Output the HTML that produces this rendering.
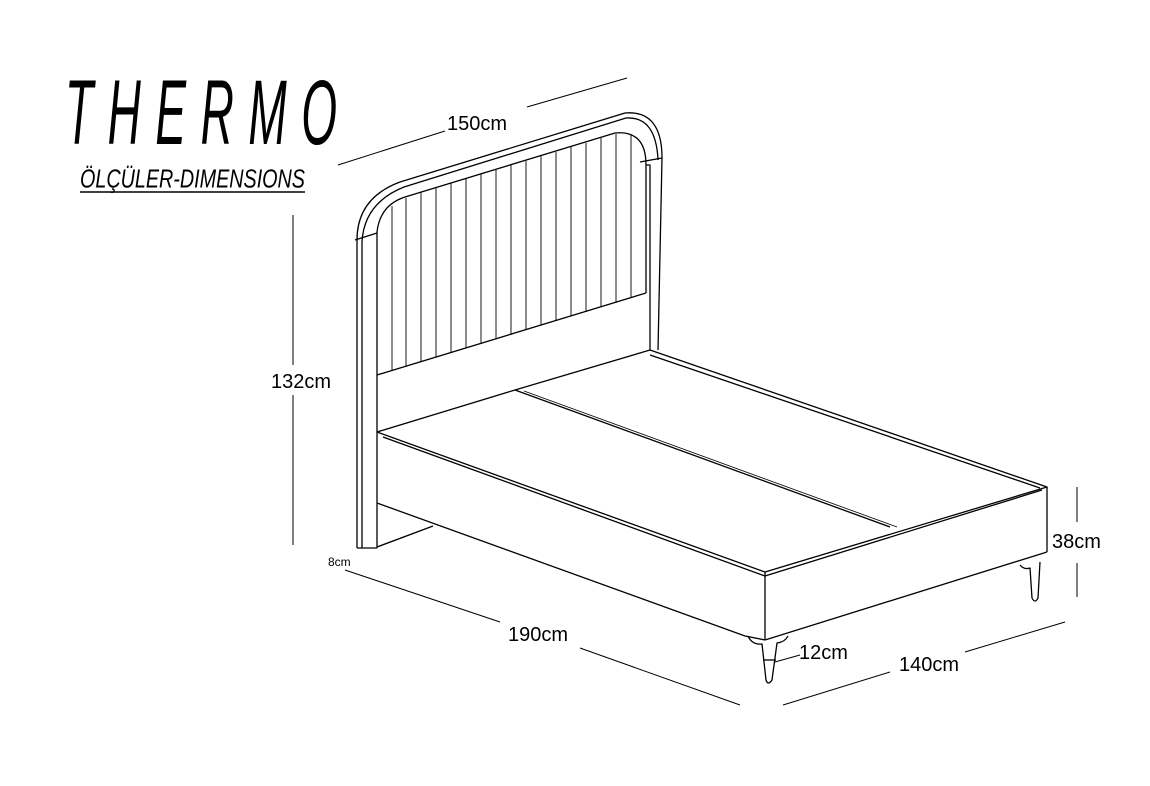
<!DOCTYPE html>
<html><head><meta charset="utf-8"><style>
html,body{margin:0;padding:0;background:#fff;}
svg{display:block;}
text{font-family:"Liberation Sans",sans-serif;fill:#000;}
</style></head><body>
<svg width="1150" height="786" viewBox="0 0 1150 786" xmlns="http://www.w3.org/2000/svg">
<text x="65" y="72" font-size="46" font-style="italic" textLength="272" lengthAdjust="spacing" transform="scale(1,2)">THERMO</text>
<text x="80" y="125" font-size="17" font-style="italic" textLength="225" lengthAdjust="spacingAndGlyphs" transform="scale(1,1.5)">ÖLÇÜLER-DIMENSIONS</text>
<line x1="80" y1="192" x2="305" y2="192" stroke="#000" stroke-width="1.5"/>

<g fill="none" stroke="#000" stroke-width="1.3" stroke-linejoin="round">
<path d="M357 548 L357 240 Q357 198 400 182 L625 113 Q662 110 662 158 L658 350"/>
<path d="M362 548 L362 242 Q364 203 404 187 L626 118 Q656 116 658 160"/>
<path d="M355 240 L377 233"/>
<path d="M640 162 L662 158"/>
<path d="M377 548 L377 232 Q380 205 405 197 L615 133 Q646 130 646 165 L646 293"/>
<path d="M646 165 L650 165 L650 350"/>
<line x1="357" y1="548" x2="377" y2="548"/>
<line x1="377" y1="375" x2="646" y2="293"/>
<line x1="377" y1="432" x2="515" y2="390"/>
<line x1="515" y1="390" x2="650" y2="350"/>
<g stroke-width="0.9">
<line x1="392" y1="206" x2="392" y2="371"/>
<line x1="406" y1="198" x2="406" y2="366"/>
<line x1="421" y1="192" x2="421" y2="362"/>
<line x1="436" y1="188" x2="436" y2="357"/>
<line x1="451" y1="183" x2="451" y2="353"/>
<line x1="466" y1="179" x2="466" y2="348"/>
<line x1="481" y1="174" x2="481" y2="344"/>
<line x1="496" y1="170" x2="496" y2="339"/>
<line x1="511" y1="165" x2="511" y2="335"/>
<line x1="526" y1="161" x2="526" y2="330"/>
<line x1="541" y1="156" x2="541" y2="325"/>
<line x1="556" y1="152" x2="556" y2="321"/>
<line x1="571" y1="147" x2="571" y2="316"/>
<line x1="586" y1="143" x2="586" y2="312"/>
<line x1="601" y1="138" x2="601" y2="307"/>
<line x1="616" y1="134" x2="616" y2="303"/>
<line x1="631" y1="134" x2="631" y2="298"/>
</g>
<path d="M377 432 L765 572 L1047 487 L650 350"/>
<path d="M383 437 L765 576 L1042 490"/>
<path d="M650 355 L1040 488"/>
<line x1="515" y1="390" x2="890" y2="527"/>
<line x1="524" y1="391" x2="897" y2="527" stroke-width="0.8"/>
<line x1="765" y1="572" x2="765" y2="640"/>
<line x1="1047" y1="487" x2="1047" y2="552"/>
<line x1="765" y1="640" x2="1047" y2="552"/>
<line x1="377" y1="503" x2="745" y2="636"/>
<path d="M745 636 L765 640"/>
<line x1="377" y1="547" x2="433" y2="526"/>
<path d="M748 636 Q752 645 762 644 L766 680 Q768 686 772 680 L777 643 Q785 642 788 636"/>
<line x1="763" y1="660" x2="776" y2="660"/>
<path d="M1020 565 Q1024 570 1030 568 L1032 598 Q1035 604 1038 598 L1040 562"/>
<g stroke-width="1">
<line x1="338" y1="165" x2="445" y2="131"/>
<line x1="527" y1="107" x2="627" y2="78"/>
<line x1="293" y1="215" x2="293" y2="365"/>
<line x1="293" y1="395" x2="293" y2="545"/>
<line x1="345" y1="570" x2="500" y2="622"/>
<line x1="580" y1="648" x2="740" y2="705"/>
<line x1="783" y1="705" x2="890" y2="672"/>
<line x1="965" y1="652" x2="1065" y2="622"/>
<line x1="775" y1="662" x2="800" y2="655"/>
<line x1="1077" y1="487" x2="1077" y2="522"/>
<line x1="1077" y1="563" x2="1077" y2="597"/>
</g>
</g>
<text x="447" y="130" font-size="20">150cm</text>
<text x="271" y="388" font-size="20">132cm</text>
<text x="328" y="566" font-size="12">8cm</text>
<text x="508" y="641" font-size="20">190cm</text>
<text x="799" y="659" font-size="20">12cm</text>
<text x="899" y="671" font-size="20">140cm</text>
<text x="1052" y="548" font-size="20">38cm</text>
</svg>
</body></html>
